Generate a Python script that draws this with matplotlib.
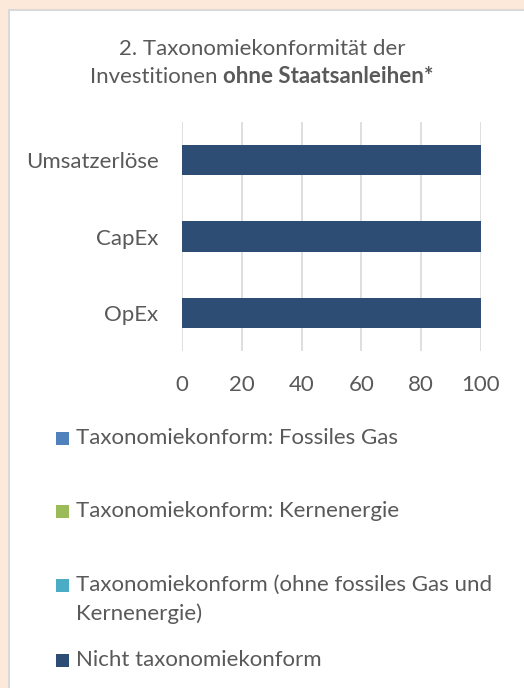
import matplotlib
matplotlib.use("Agg")
import matplotlib.pyplot as plt
from matplotlib.patches import Rectangle
import numpy as np

# ---- data ----
categories = ["Umsatzerlöse", "CapEx", "OpEx"]
series_names = [
    "Taxonomiekonform: Fossiles Gas",
    "Taxonomiekonform: Kernenergie",
    "Taxonomiekonform (ohne fossiles Gas und\nKernenergie)",
    "Nicht taxonomiekonform",
]
fossil_gas = [0, 0, 0]
nuclear = [0, 0, 0]
aligned_other = [0, 0, 0]
not_aligned = [100, 100, 100]
x_ticks = [0, 20, 40, 60, 80, 100]

colors = ["#4F81BD", "#9BBB59", "#4BACC6", "#2E4D75"]
text_color = "#595959"
FONT = "Lato"

W, H = 524, 688
fig = plt.figure(figsize=(W / 100, H / 100), dpi=100)
fig.patch.set_facecolor("#FDE9D9")

def px(x, y):
    return x / W, 1 - y / H

# white panel with grey border
x0, y0 = px(9, 10)
fig.patches.append(Rectangle((x0, -0.1), 1.2, y0 + 0.1, transform=fig.transFigure,
                             facecolor="white", edgecolor="#D9D9D9", linewidth=1.5, zorder=-5))

# axes
l, t = px(182, 122)
r, b = px(481, 351)
ax = fig.add_axes([l, b, r - l, t - b])
ax.set_zorder(2)
ax.set_facecolor("none")

ypos = np.arange(len(categories))
series = [fossil_gas, nuclear, aligned_other, not_aligned]
left = np.zeros(len(categories))
for vals, c, name in zip(series, colors, series_names):
    ax.barh(ypos, vals, left=left, height=0.4, color=c, label=name, zorder=3)
    left = left + np.array(vals)

ax.set_ylim(len(categories) - 0.5, -0.5)
ax.set_xlim(0, 100)
ax.set_xticks(x_ticks)
ax.set_xticklabels([str(v) for v in x_ticks])
ax.set_yticks(ypos)
ax.set_yticklabels(categories)
for s in ax.spines.values():
    s.set_visible(False)
ax.grid(axis="x", color="#D9D9D9", linewidth=1.2, zorder=0)
ax.set_axisbelow(True)
ax.tick_params(axis="both", length=0, colors=text_color, labelsize=16)
ax.tick_params(axis="x", pad=17)
ax.tick_params(axis="y", pad=17)
for lab in ax.get_xticklabels() + ax.get_yticklabels():
    lab.set_fontfamily(FONT)
    lab.set_color(text_color)

# title
TS = 16
tx, ty1 = px(262, 55)
fig.text(tx, ty1, "2. Taxonomiekonformität der", ha="center", va="baseline",
         fontsize=TS, color=text_color, family=FONT, zorder=5)
_, ty2 = px(262, 83)
t_a = fig.text(0, ty2, "Investitionen ", ha="left", va="baseline",
               fontsize=TS, color=text_color, family=FONT, zorder=5)
t_b = fig.text(0, ty2, "ohne Staatsanleihen*", ha="left", va="baseline",
               fontsize=TS, color=text_color, family=FONT, fontweight="bold", zorder=5)
renderer = fig.canvas.get_renderer()
wa = t_a.get_window_extent(renderer).width
wb = t_b.get_window_extent(renderer).width
start = 262 - (wa + wb) / 2
t_a.set_x(start / W)
t_b.set_x((start + wa) / W)

# legend (manual)
legend_y = [438, 511, 585, 660]
line_gap = 29
for name, c, yy in zip(series_names, colors, legend_y):
    rx, ry = px(56, yy + 7)
    fig.patches.append(Rectangle((rx, ry), 13 / W, 13 / H, transform=fig.transFigure,
                                 facecolor=c, edgecolor="none", zorder=2))
    for k, line in enumerate(name.split("\n")):
        lx, ly = px(76, yy + 6 + k * line_gap)
        fig.text(lx, ly, line, ha="left", va="baseline", fontsize=16,
                 color=text_color, family=FONT, zorder=5)

fig.savefig("out.png", dpi=100, facecolor=fig.get_facecolor())
